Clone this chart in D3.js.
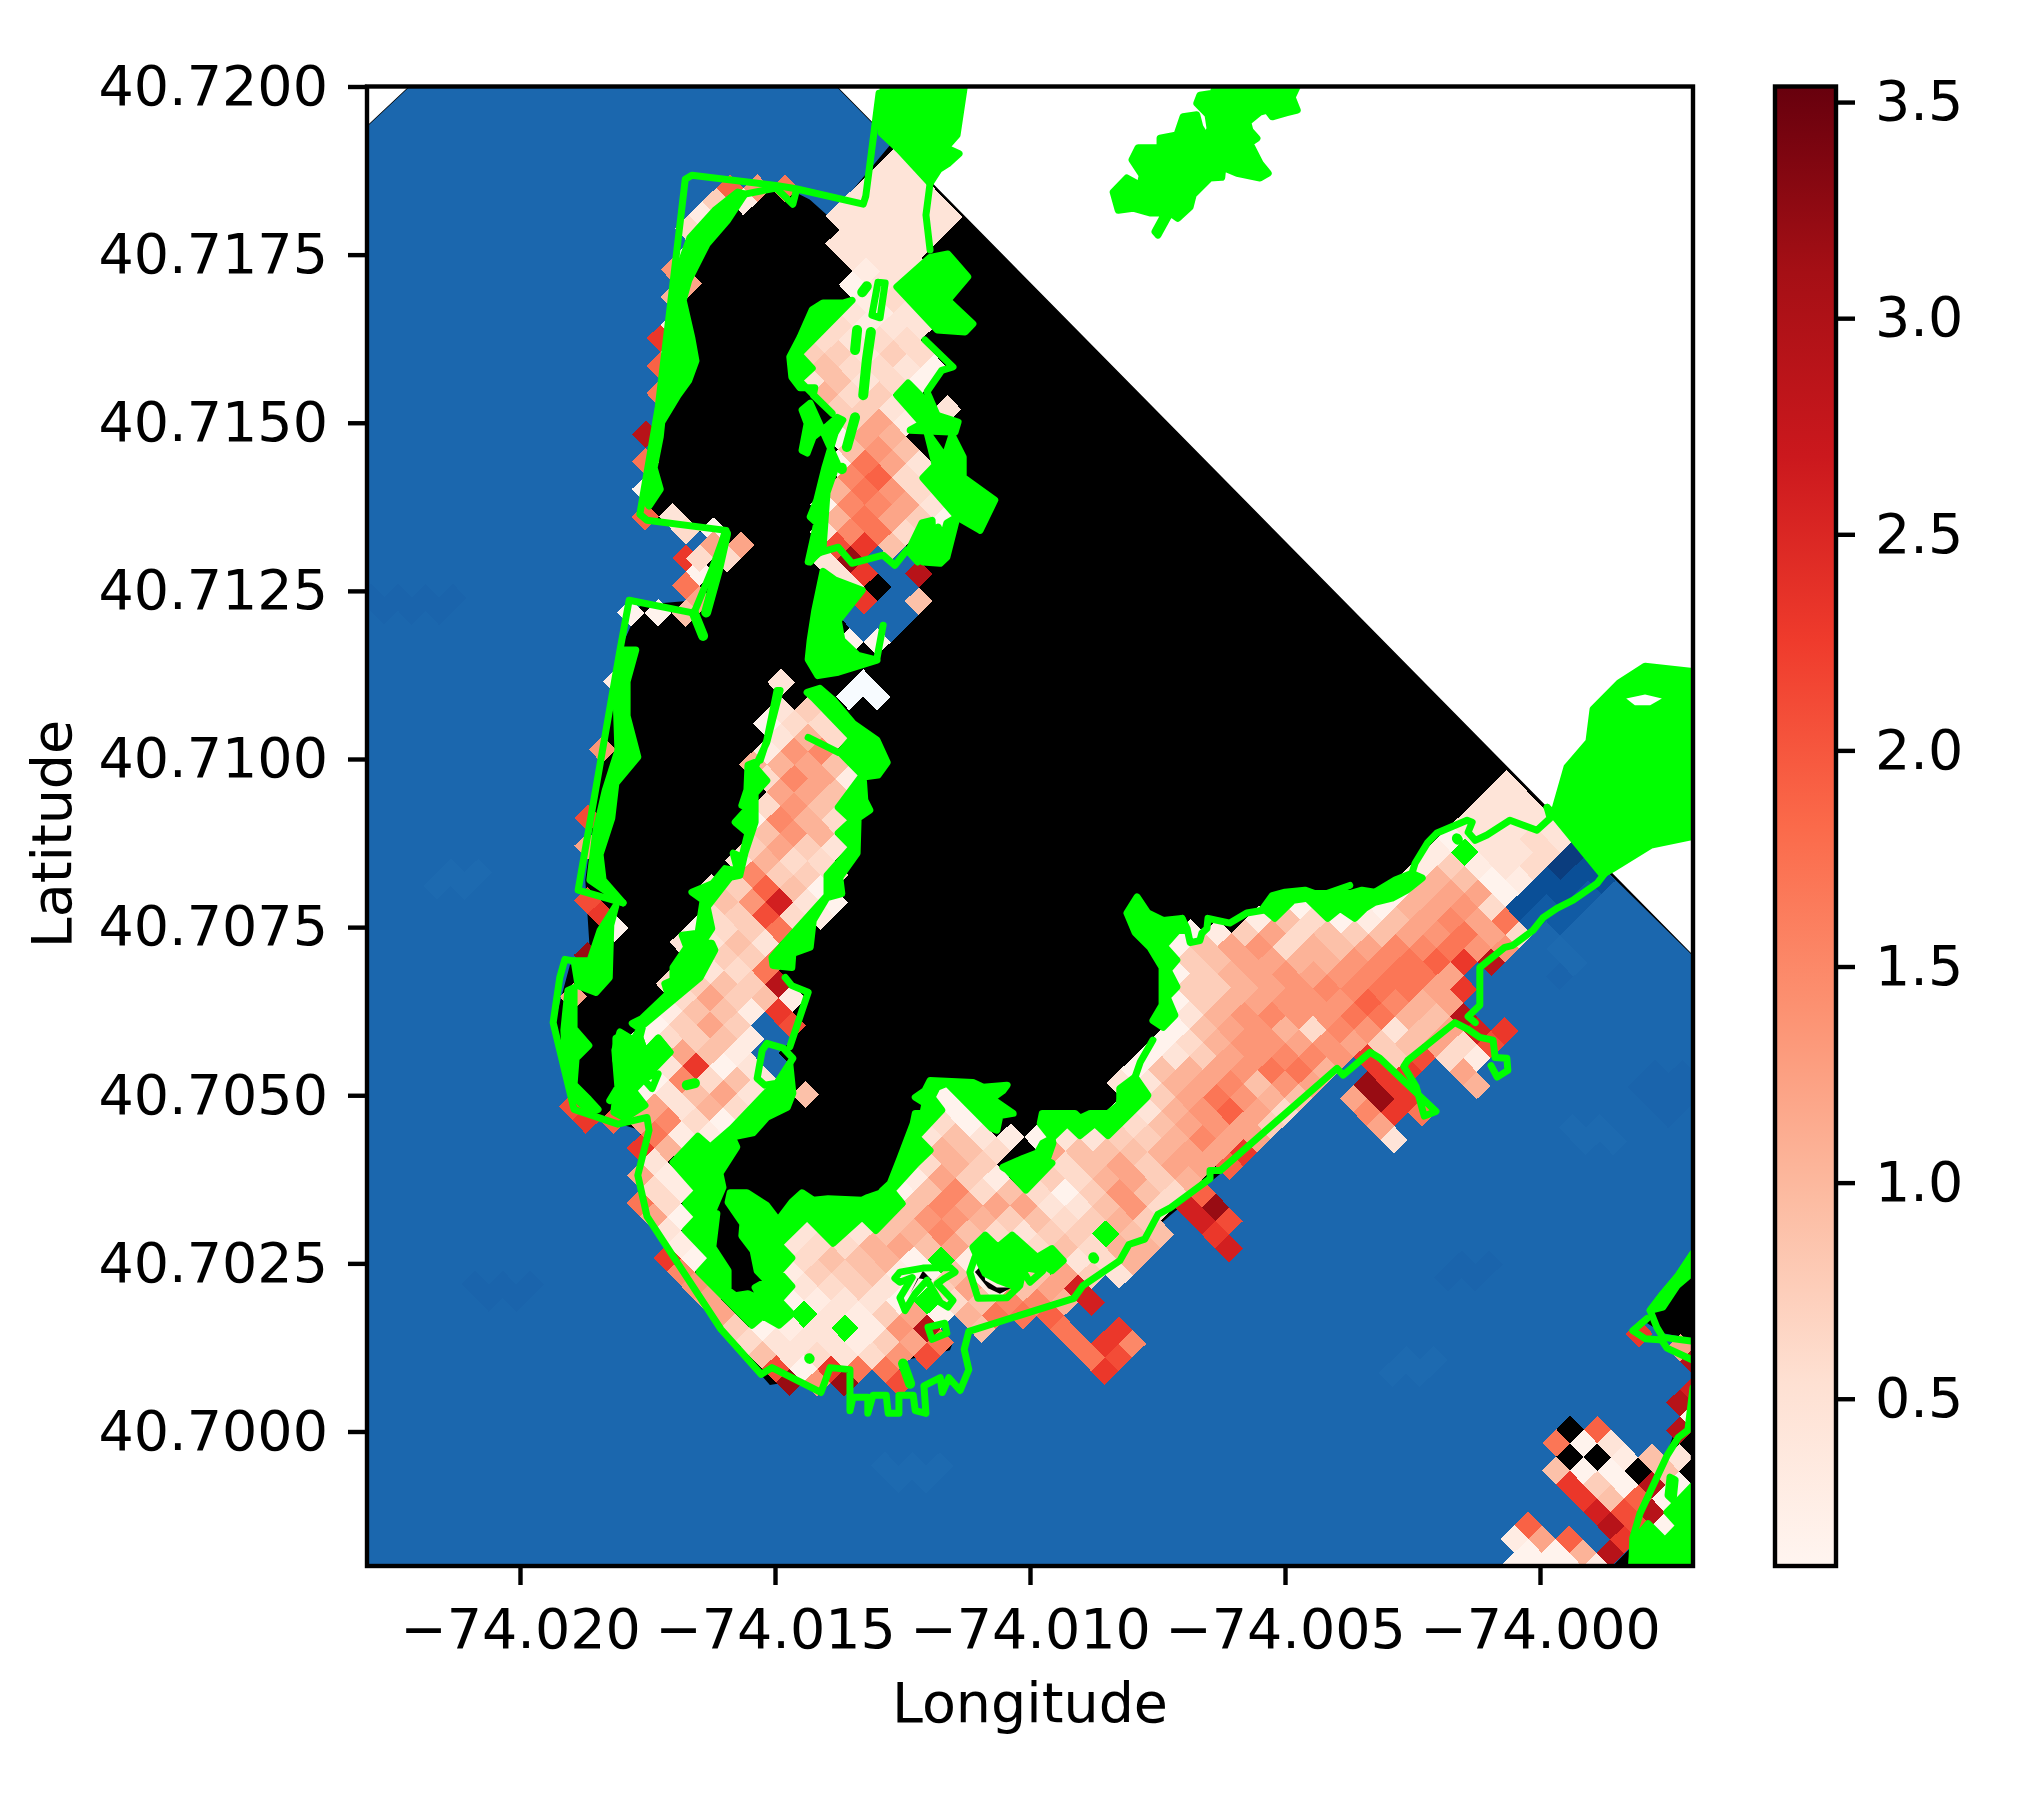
<!DOCTYPE html>
<html><head><meta charset="utf-8">
<script src="https://cdn.jsdelivr.net/npm/d3@7"></script>
<style>html,body{margin:0;padding:0;background:#fff}svg{display:block}
text{font-family:"DejaVu Sans";fill:#000}</style></head><body>
<svg id="c" width="2039" height="1800"></svg>
<script>
// ---- axis limits and ticks ----
const lonLimits=[-74.023,-73.997], latLimits=[40.698,40.72];
const lonTicks=[-74.02,-74.015,-74.01,-74.005,-74];
const latTicks=[40.7,40.7025,40.705,40.7075,40.71,40.7125,40.715,40.7175,40.72];
const colorTicks=[0.5,1,1.5,2,2.5,3,3.5];
const colorLimits=[0.113,3.536];
const redStops=["#fff5f0","#fee0d2","#fcbba1","#fc9272","#fb6a4a","#ef3b2c","#cb181d","#a50f15","#67000d"];
// ---- rotated model grid: origin and the two half-diagonal steps, degrees ----
const gridOrigin=[-73.99941,40.70003], gridStepP=[2.686e-4,-1.5e-6], gridStepR=[-2e-6,-2.041e-4];
// ---- cell values: letter -> value ----
const levelValues={a:.15,b:.3,c:.45,d:.6,e:.75,f:.9,g:1.05,h:1.2,i:1.35,j:1.5,k:1.7,l:1.9,m:2.1,n:2.3,o:2.6,p:2.9,q:3.2};
const maskColors={S:"#1b67ae",A:"#0b3d7e",B:"#0a4f97",C:"#115ba4",D:"#1a64ac",E:"#1d6ab0",K:"#000",W:"#f7fbff",G:"#00ff00"};
// [row, first column, one letter per cell, columns advance by two]
const cellRows=[
[-92,-50,"c"],[-91,-51,"cc"],[-90,-62,"lik..ccc"],[-89,-63,"eb...cccc"],[-88,-64,"b....ccccc"],
[-87,-65,"d.....cccc"],[-86,-54,"cccc"],[-85,-65,"a.....ccc"],[-84,-66,"i......bcc"],[-83,-65,"h.....acc"],
[-82,-66,"g......bdc"],[-81,-53,"cbcc"],[-80,-66,"b.....dbcc"],[-79,-67,"n.....dcdd"],[-78,-66,"a....eeced"],
[-77,-67,"l.....fddca"],[-76,-56,"cfcda"],[-75,-67,"k.....gdeG"],[-74,-54,"eecbc"],[-73,-53,"ehb"],
[-72,-68,"p......ahg"],[-71,-53,"fif"],[-70,-68,"k......akhc"],[-69,-53,"jld"],[-68,-68,"a......gkid"],
[-67,-55,"ajjhc"],[-66,-68,"lc.....gkhea"],[-65,-65,"da...cjkda"],[-64,-54,"mnf"],[-63,-65,"n....cqSS"],
[-62,-64,"a....cnSp"],[-61,-65,"k.....cKS"],[-60,-64,"h.....nSf"],[-59,-69,"aaf.....SSS"],[-58,-52,"SS"],[-57,-53,"aa"],
[-54,-70,"b.....c..W"],[-53,-53,"WW"],[-52,-58,"ce"],[-51,-59,"add"],[-50,-58,"cgd"],[-49,-71,"i.....bij"],
[-48,-60,"gghf"],[-47,-59,"djhb"],[-46,-58,"hhf"],[-45,-59,"dif"],[-44,-72,"m.....ajgd"],[-43,-59,"fig"],
[-42,-72,"h.....ehec"],[-41,-61,"cgdd"],[-40,-60,"jeed"],[-39,-63,"celfa"],[-38,-72,"m....fioca"],
[-37,-71,"n...demdb"],[-36,-70,"a..adek"],[-35,-65,"ccfc"],[-34,-72,"q...ceek"],[-33,-65,"ccdk"],[-32,-66,"defep"],
[-31,-73,"h...dhefb"],[-30,-66,"bffbn"],[-29,-67,"aeheSm"],[-28,-68,"adefbS"],[-27,-65,"hfbS"],[-26,-68,"acnacS"],
[-25,-69,"aajdfc"],[-24,-68,"acfhc.f"],[-23,-73,"m..hcgd"],[-22,-72,"nlhjda"],[-21,-67,"kbb"],[-20,-68,"ng"],
[-19,-67,"c"],[-18,-68,"hb"],[-17,-67,"db"],[-16,-68,"kd"],[-15,-67,"ha"],[-14,-66,"c"],[-13,-65,"b"],
[-12,-66,"na"],[-11,-65,"j"],[-10,-64,"i"],[-9,-63,"h"],[-8,-62,"h"],
[-47,-5,"c"],[-46,-6,"cc"],[-45,-7,"ccc"],[-44,-8,"cccc"],[-43,-9,"accdc"],[-42,-10,"bGccd"],[-41,-11,"bebcd"],[-40,-12,"bgfab"],[-39,-13,"aghha"],
[-38,-20,"a.aaghidB"],[-37,-23,"bfdabfhjhkC"],[-36,-28,"abehdfefhikhd"],[-35,-29,"afhidgfhjjkii"],[-34,-28,"efhhggijklnp"],
[-33,-29,"aeghihijkkhS"],[-32,-28,"eeghijjkkhnS"],[-31,-29,"aeghiiiljgh"],[-30,-28,"cgijiikkgfpS"],[-29,-29,"afhigdjicfhon"],
[-28,-30,"adgiihihefhdm"],[-27,-31,"acehijjinemdb"],[-26,-32,"afghikkgSnnSh"],[-25,-33,"ccghjfihSqnSSg"],[-24,-32,"dehkigfShqn"],
[-23,-33,"acgilhd.Sjnk"],[-22,-34,"ddfhihe...h"],[-21,-33,"eegjhh....c"],[-20,-32,"fghhn"],[-19,-33,"hehhl"],[-18,-32,"heg"],
[-17,-33,"ifdl"],[-16,-32,"idoq"],[-15,-33,"ge.om"],[-14,-26,"n"],[-13,-25,"o"],
[-24,-46,"a"],[-23,-45,"a"],[-22,-46,"da"],[-21,-47,"cfcbacc"],[-20,-48,"cgfd.hff"],[-19,-47,"dge..df"],[-18,-48,"bheb.edg"],
[-17,-49,"afjdfdae"],[-16,-50,"dfjhhhccf"],[-15,-51,"dfiigefde"],[-14,-56,"c.cfgjfdceeGff"],[-13,-57,"cddghfhdddfdgg"],
[-12,-56,"dffgaGbGGGcdg"],[-11,-57,"beefbafaafhec"],[-10,-56,"cdecbehbfho"],[-9,-57,"abccaGdfjjgo"],[-8,-56,"GcbehagkklS"],
[-7,-61,"eabcGbipSfSSkSn"],[-6,-60,"dcccbehk....knj"],[-5,-59,"fcdcdim.....km"],[-4,-58,"mankk.......n"],[-3,-57,"qiqSm"],
[-7,5,"n"],[-6,8,"h"],[-5,9,"p"],[-3,9,"o"],[-2,8,"p"],[-1,9,"a"],[0,0,"Kl..p"],[1,-1,"kac"],[2,0,"KKbfc"],[3,-1,"faaKf"],
[4,0,"neapa"],[5,1,"nfla"],[6,2,"omp"],[7,-3,"l..pma"],[8,-4,"bhl.n"],[9,-3,"aagp"],[10,-4,"aaab"],
[-64,-63,"hh"],[-63,-64,"dd"],
[-42,0,"A"],[-41,-1,"AB"],[-40,-2,"BBB"],[-39,-3,"BBC"],[-38,-2,"CC"],[-37,-1,"C"],[-35,-1,"E"],[-34,0,"E"],[-33,-1,"D"],
[-26,6,"DD"],[-25,5,"DDD"],[-24,6,"DD"],[-23,7,"D"],[-22,0,"EE"],[-21,1,"EE"],[-12,-8,"DD"],[-11,-9,"DD"],[-5,-12,"EE"],[-4,-13,"EE"],
[-60,-88,"DDDD"],[-59,-87,"DDD"],[-40,-82,"EE"],[-39,-83,"EE"],[-10,-80,"DDD"],[-9,-79,"DD"],[3,-50,"EEE"],[4,-49,"EE"]
];
// ---- outlines: pairs of (1e-5 deg east of the west limit, 1e-5 deg south of the north limit) ----
const domainOutline=[0,60,84,0,920,0,2600,1293,2600,2201,0,2201];
const seaOutline=[0,60,84,0,920,0,1029,84,928,176,908,195,868,168,829,153,751,153,653,228,614,303,595,377,575,466,545,615,555,645,682,667,643,764,536,771,496,838,457,1017,428,1180,438,1299,398,1306,369,1388,408,1522,536,1552,536,1619,551,1680,694,1848,790,1931,967,1909,1143,1879,1162,1842,1172,1820,1408,1790,1574,1679,1907,1470,1986,1418,2104,1403,2143,1359,2153,1299,2202,1255,2235,1220,2369,1121,2600,1293,2600,2201,0,2201];
const landOutlines=[
[2600,1731,2535,1809,2502,1835,2541,1854,2600,1862],
[2441,2201,2484,2168,2600,1924,2600,2201],
[1192,1763,1208,1750,1212,1775,1235,1786,1265,1786,1241,1795,1218,1787],
[1090,1761,1065,1795,1080,1772,1108,1775],
[1294,1758,1304,1756,1298,1763]];
const greenAreas=[
[1012,1,1171,1,1157,72,1135,91,1161,100,1139,115,1122,123,1104,144,1043,94,1008,69],
[1663,0,1824,0,1814,16,1824,35,1804,39,1775,45,1765,35,1751,38,1727,53,1731,65,1745,77,1731,84,1751,114,1767,129,1751,136,1706,129,1678,120,1676,135,1653,136,1620,161,1614,179,1590,196,1575,188,1551,221,1545,216,1565,188,1535,188,1502,181,1473,184,1463,157,1490,136,1516,147,1520,132,1500,109,1512,91,1555,91,1555,77,1588,72,1600,45,1627,42,1633,60,1647,77,1653,62,1649,42,1627,25,1633,13,1659,10],
[2327,1081,2353,1012,2396,974,2404,926,2455,887,2506,862,2600,870,2600,1115,2518,1128,2441,1164,2422,1172,2314,1072],
[1039,298,1104,254,1139,249,1178,283,1139,318,1188,353,1173,365,1118,362],
[1061,441,1094,466,1118,489,1159,499,1153,514,1065,511,1088,501,1039,459],
[1098,514,1133,551,1147,518,1169,551,1169,581,1231,615,1202,660,1157,640,1090,582,1114,563],
[1157,640,1137,700,1124,709,1090,707,1065,685,1088,649,1108,645,1110,679,1120,655,1129,672,1137,649],
[951,318,933,322,894,322,873,332,849,373,829,402,833,432,849,448,878,448,875,459,912,486,847,437,873,419,847,398],
[869,471,853,481,863,501,853,541,863,545,875,521,904,504,922,492,933,496,918,515,898,566,882,615,869,640,882,649,865,707,894,689,902,604,922,560],
[894,721,878,779,869,823,865,852,884,876,924,871,1000,853,963,846,931,823,924,794,971,749,918,734],
[875,909,863,901,888,895,914,912,953,947,1000,972,1020,1005,1002,1024,973,1027,976,1061,986,1076,963,1088,961,1140,927,1176,931,1200,902,1206,875,1240,869,1280,835,1289,833,1310,796,1307,794,1295,814,1277,902,1203,902,1173,951,1131,924,1110,951,1091,924,1072,971,1024,927,990,951,969],
[804,898,784,972,771,1002,747,1009,745,1046,735,1069,747,1073,722,1094,747,1110,735,1146,718,1140,727,1166,702,1163,678,1185,637,1198,659,1210,649,1259,618,1262,627,1280,600,1310,600,1329,584,1334,590,1349,539,1386,520,1393,535,1401,522,1418,496,1406,486,1433,492,1488,476,1508,522,1488,559,1459,594,1436,571,1415,545,1436,535,1414,541,1396,653,1325,682,1284,676,1274,657,1274,676,1252,667,1220,712,1176,731,1173,741,1140,761,1094,761,1051,784,1032,761,1012,784,975,810,898],
[784,1495,716,1549,673,1577,649,1561,600,1600,649,1642,625,1661,649,1681,624,1701,676,1742,651,1763,755,1842,776,1828,808,1842,833,1825,808,1805,833,1784,808,1763,833,1742,808,1722,863,1681,914,1720,971,1681,998,1701,1049,1661,1027,1642,1020,1642,982,1652,971,1656,904,1654,875,1656,853,1645,833,1659,806,1686,784,1664,745,1645,712,1645,708,1659,737,1691,735,1709,757,1731,765,1761,784,1776,761,1786,775,1805,747,1795,722,1798,708,1790,708,1761,678,1726,686,1676,676,1676,698,1637,692,1616,725,1577,716,1562,757,1556,784,1533,824,1518,835,1497,829,1453,804,1482],
[488,1415,506,1411,520,1426,535,1414,545,1436,571,1415,594,1436,522,1493,545,1515,506,1534,484,1525,488,1500,506,1493,488,1448],
[741,160,706,200,667,234,631,288,620,318,637,374,645,408,631,437,610,459,578,499,575,521,563,567,575,599,553,624,545,615,565,526,584,437,594,377,604,310,614,266,633,225,682,184,727,157],
[500,838,527,838,510,885,510,936,531,997,488,1036,480,1088,457,1142,463,1180,502,1214,437,1180,449,1106,467,1047,492,987,488,898],
[488,1218,478,1247,475,1325,449,1347,414,1337,406,1300,437,1300,457,1255],
[394,1344,406,1340,406,1401,435,1426,410,1445,406,1484,435,1506,453,1521,437,1525,414,1508,390,1463,386,1403],
[1510,1205,1531,1229,1561,1240,1598,1237,1604,1255,1590,1255,1563,1278,1588,1299,1571,1314,1588,1339,1569,1354,1584,1381,1561,1399,1541,1389,1559,1366,1559,1339,1559,1310,1535,1280,1506,1258,1490,1229],
[1757,1222,1780,1237,1816,1210,1843,1207,1884,1237,1908,1222,1937,1237,1957,1222,1976,1213,2010,1207,2039,1195,2069,1177,2049,1170,2016,1180,1976,1198,1951,1195,1927,1200,1898,1198,1869,1203,1839,1195,1800,1198,1775,1203],
[1506,1473,1531,1500,1476,1542,1476,1490],
[1529,1503,1510,1478,1482,1497,1473,1515,1453,1527,1418,1527,1398,1534,1388,1527,1324,1527,1320,1542,1343,1564,1373,1542,1398,1560,1427,1542,1453,1560],
[1343,1564,1345,1571,1333,1597,1343,1601,1292,1641,1255,1611,1247,1607,1286,1594,1314,1586,1325,1571],
[1118,1488,1137,1482,1225,1549,1235,1552,1241,1530,1267,1527,1225,1505,1247,1493,1255,1485,1208,1488,1188,1481,1104,1478,1094,1493,1075,1503,1094,1512,1090,1527,1075,1527,1071,1542,1045,1594,1026,1631,1010,1642,1026,1646,1049,1661,1029,1642,1078,1601,1104,1582,1078,1562,1127,1522,1108,1503],
[1212,1708,1237,1726,1265,1708,1314,1741,1343,1728,1365,1746,1343,1761,1320,1749,1286,1761,1275,1786,1237,1775,1212,1765,1202,1750,1188,1726],
[2480,2199,2484,2162,2512,2137,2545,2162,2573,2140,2549,2120,2576,2099,2600,2080,2600,2201],
[2600,1735,2571,1768,2541,1795,2516,1820,2541,1815,2569,1783,2600,1763]];
const clearAreas=[[2469,910,2506,904,2539,910,2516,920,2486,920]];
const greenLines=[
[1004,10,978,163,973,175,841,152,802,147,637,132,624,138,596,318,571,477,535,636,549,645,704,660,676,719,641,783,514,764,496,838,414,1195,502,1214],
[410,1301,388,1298,378,1325,365,1392,406,1521,492,1543,549,1533,553,1552,531,1619,549,1680,694,1848,773,1915,794,1905,890,1942,908,1905,947,1908,947,1969,953,1949,982,1949,982,1973,992,1946,1018,1946,1022,1973,1043,1973,1043,1946,1071,1946,1075,1969,1096,1973,1092,1932,1124,1920,1128,1942,1141,1920,1163,1939,1180,1908,1171,1878,1180,1851,1386,1802,1404,1783,1476,1746,1494,1722,1525,1714,1551,1677,1574,1668,1653,1624,1653,1612,1673,1612,1902,1460,1914,1470,1967,1436,1986,1445,2096,1524,2073,1531,2057,1487,2033,1457,2041,1448,2133,1392,2159,1402,2182,1414,2208,1418,2212,1444,2235,1445,2237,1463,2216,1473,2204,1456],
[2173,1392,2159,1383,2182,1366,2182,1310,2231,1280,2247,1277,2286,1255,2306,1236,2333,1222,2365,1210,2412,1185,2427,1170],
[1598,1237,1608,1252,1614,1273,1633,1270,1637,1259,1647,1252,1649,1237,1692,1244,1725,1229,1757,1225,1776,1206,1816,1200,1882,1200,1927,1188],
[2049,1170,2055,1155,2080,1124,2098,1110,2157,1091,2167,1094,2159,1109,2173,1121,2196,1113,2241,1091,2294,1106,2320,1088,2314,1072],
[1002,291,1016,292,1006,344,990,340,1002,291],
[869,707,884,694,924,685,951,709,1012,697,1035,712,1059,689,1080,707],
[1104,144,1096,191,1104,243],
[1094,377,1149,417,1127,422,1098,454,1118,489],
[741,160,802,151,835,175,841,157],
[1012,801,1000,850],
[865,968,924,990],
[784,1423,816,1430,835,1445,804,1482,780,1485,765,1475,775,1433,784,1423],
[820,1325,833,1337,865,1347,829,1428],
[541,1475,571,1468,559,1490,541,1475],
[1035,1772,1045,1763,1090,1757,1143,1756,1153,1763,1133,1772,1118,1780,1149,1805,1139,1815,1124,1808,1098,1775,1075,1795,1055,1820,1045,1801,1069,1771,1045,1778,1035,1772],
[1192,1741,1182,1763,1198,1802,1255,1801,1280,1783,1286,1761,1300,1778,1325,1761,1286,1756],
[1100,1845,1133,1839,1137,1854,1108,1863,1100,1845],
[2600,1735,2571,1768,2541,1795,2516,1820,2529,1845,2541,1860,2600,1866],
[2510,1832,2482,1850,2506,1862,2541,1864],
[2541,1867,2549,1876,2600,1894],
[2600,1935,2590,1998,2571,2009,2549,2036,2496,2122,2482,2158,2480,2199],
[2555,2068,2551,2095,2561,2102,2565,2072,2555,2068],
[1541,1418,1516,1451,1506,1473]];
const greenThickLines=[
[971,306,980,297],[961,362,957,392],[988,365,980,407,973,459],[957,492,941,536],[643,1482,627,1485],[641,783,659,817],
[704,665,688,719,665,782],
[1424,1741,1426,1743],[1051,1899,1065,1929],[2137,1118,2139,1120],[931,567,931,569],[867,1891,868,1892]];

// ---- scales ----
const svg=d3.select("#c");
const plot={l:367,r:1693,t:86.5,b:1566};
const x=d3.scaleLinear().domain(lonLimits).range([plot.l,plot.r]);
const y=d3.scaleLinear().domain(latLimits).range([plot.b,plot.t]);
const redDomain=redStops.map((_,i)=>colorLimits[0]+i*(colorLimits[1]-colorLimits[0])/8);
const reds=d3.scaleLinear().domain(redDomain).range(redStops);
const fmtLon=v=>d3.format(".3f")(v).replace("-","\u2212");
const TICK=19, FONT=55.5, SPINE=4.4;
const toLL=(e,s)=>[lonLimits[0]+e*1e-5,latLimits[1]-s*1e-5];
function outlinePath(arr,closed){
  const pts=[];for(let i=0;i<arr.length;i+=2){const ll=toLL(arr[i],arr[i+1]);pts.push([x(ll[0]),y(ll[1])]);}
  return d3.line()(pts)+(closed?"Z":"");
}
svg.append("defs").append("clipPath").attr("id","plotClip").append("rect")
 .attr("x",plot.l).attr("y",plot.t).attr("width",plot.r-plot.l).attr("height",plot.b-plot.t);
const map=svg.append("g").attr("clip-path","url(#plotClip)");
map.append("path").attr("d",outlinePath(domainOutline,true)).attr("fill","#000").attr("stroke","#000").attr("stroke-width",1.5);
map.append("path").attr("d",outlinePath(seaOutline,true)).attr("fill",maskColors.S);
map.selectAll(".land").data(landOutlines).join("path").attr("class","land").attr("d",d=>outlinePath(d,true)).attr("fill","#000");
// cells
const cells=[];
cellRows.forEach(([r,p0,s])=>{[...s].forEach((ch,k)=>{ if(ch!==".") cells.push({r,p:p0+2*k,ch}); });});
function cellPath(c){
  const lon=gridOrigin[0]+c.p*gridStepP[0]+c.r*gridStepR[0];
  const lat=gridOrigin[1]+c.p*gridStepP[1]+c.r*gridStepR[1];
  const v=[[lon-gridStepP[0],lat-gridStepP[1]],[lon-gridStepR[0],lat-gridStepR[1]],[lon+gridStepP[0],lat+gridStepP[1]],[lon+gridStepR[0],lat+gridStepR[1]]];
  return d3.line()(v.map(q=>[x(q[0]),y(q[1])]))+"Z";
}
map.append("g").attr("shape-rendering","crispEdges").selectAll("path").data(cells).join("path")
 .attr("d",cellPath)
 .attr("fill",c=>maskColors[c.ch]||reds(levelValues[c.ch]));
// small black holes come again above the cells
map.selectAll(".hole").data(landOutlines.slice(2)).join("path").attr("class","hole").attr("d",d=>outlinePath(d,true)).attr("fill","#000");
// green coast
const green="#00ff00";
map.append("g").selectAll("path").data(greenAreas).join("path").attr("d",d=>outlinePath(d,true))
 .attr("fill",green).attr("stroke",green).attr("stroke-width",7).attr("stroke-linejoin","round");
map.append("g").selectAll("path").data(clearAreas).join("path").attr("d",d=>outlinePath(d,true)).attr("fill","#fff");
map.append("g").selectAll("path").data(greenLines).join("path").attr("d",d=>outlinePath(d,false))
 .attr("fill","none").attr("stroke",green).attr("stroke-width",7).attr("stroke-linejoin","round").attr("stroke-linecap","round");
map.append("g").selectAll("path").data(greenThickLines).join("path").attr("d",d=>outlinePath(d,false))
 .attr("fill","none").attr("stroke",green).attr("stroke-width",10).attr("stroke-linejoin","round").attr("stroke-linecap","round");

// axes
function style(g){
  g.select(".domain").remove();
  g.selectAll("line").attr("stroke","#000").attr("stroke-width",SPINE);
  g.selectAll("text").attr("font-size",FONT).attr("font-family","DejaVu Sans").attr("fill","#000");
}
svg.append("g").attr("transform",`translate(0,${plot.b})`)
 .call(d3.axisBottom(x).tickValues(lonTicks).tickFormat(fmtLon).tickSize(TICK).tickPadding(24)).call(style);
svg.append("g").attr("transform",`translate(${plot.l},0)`)
 .call(d3.axisLeft(y).tickValues(latTicks).tickFormat(d3.format(".4f")).tickSize(TICK).tickPadding(20)).call(style);
svg.append("rect").attr("x",plot.l).attr("y",plot.t).attr("width",plot.r-plot.l).attr("height",plot.b-plot.t)
 .attr("fill","none").attr("stroke","#000").attr("stroke-width",SPINE);
svg.append("text").attr("x",(plot.l+plot.r)/2).attr("y",1722).attr("text-anchor","middle").attr("font-size",FONT).text("Longitude");
svg.append("text").attr("transform",`translate(71,834) rotate(-90)`).attr("text-anchor","middle").attr("font-size",FONT).text("Latitude");

// colour bar
const bar={l:1775,r:1836};
const cy=d3.scaleLinear().domain(colorLimits).range([plot.b,plot.t]);
const grad=svg.select("defs").append("linearGradient").attr("id","redsGrad").attr("x1",0).attr("x2",0).attr("y1",1).attr("y2",0);
redStops.forEach((c,i)=>grad.append("stop").attr("offset",i/8).attr("stop-color",c));
svg.append("rect").attr("x",bar.l).attr("y",plot.t).attr("width",bar.r-bar.l).attr("height",plot.b-plot.t)
 .attr("fill","url(#redsGrad)").attr("stroke","#000").attr("stroke-width",SPINE);
svg.append("g").attr("transform",`translate(${bar.r},0)`)
 .call(d3.axisRight(cy).tickValues(colorTicks).tickFormat(d3.format(".1f")).tickSize(TICK).tickPadding(20)).call(style);
</script></body></html>
